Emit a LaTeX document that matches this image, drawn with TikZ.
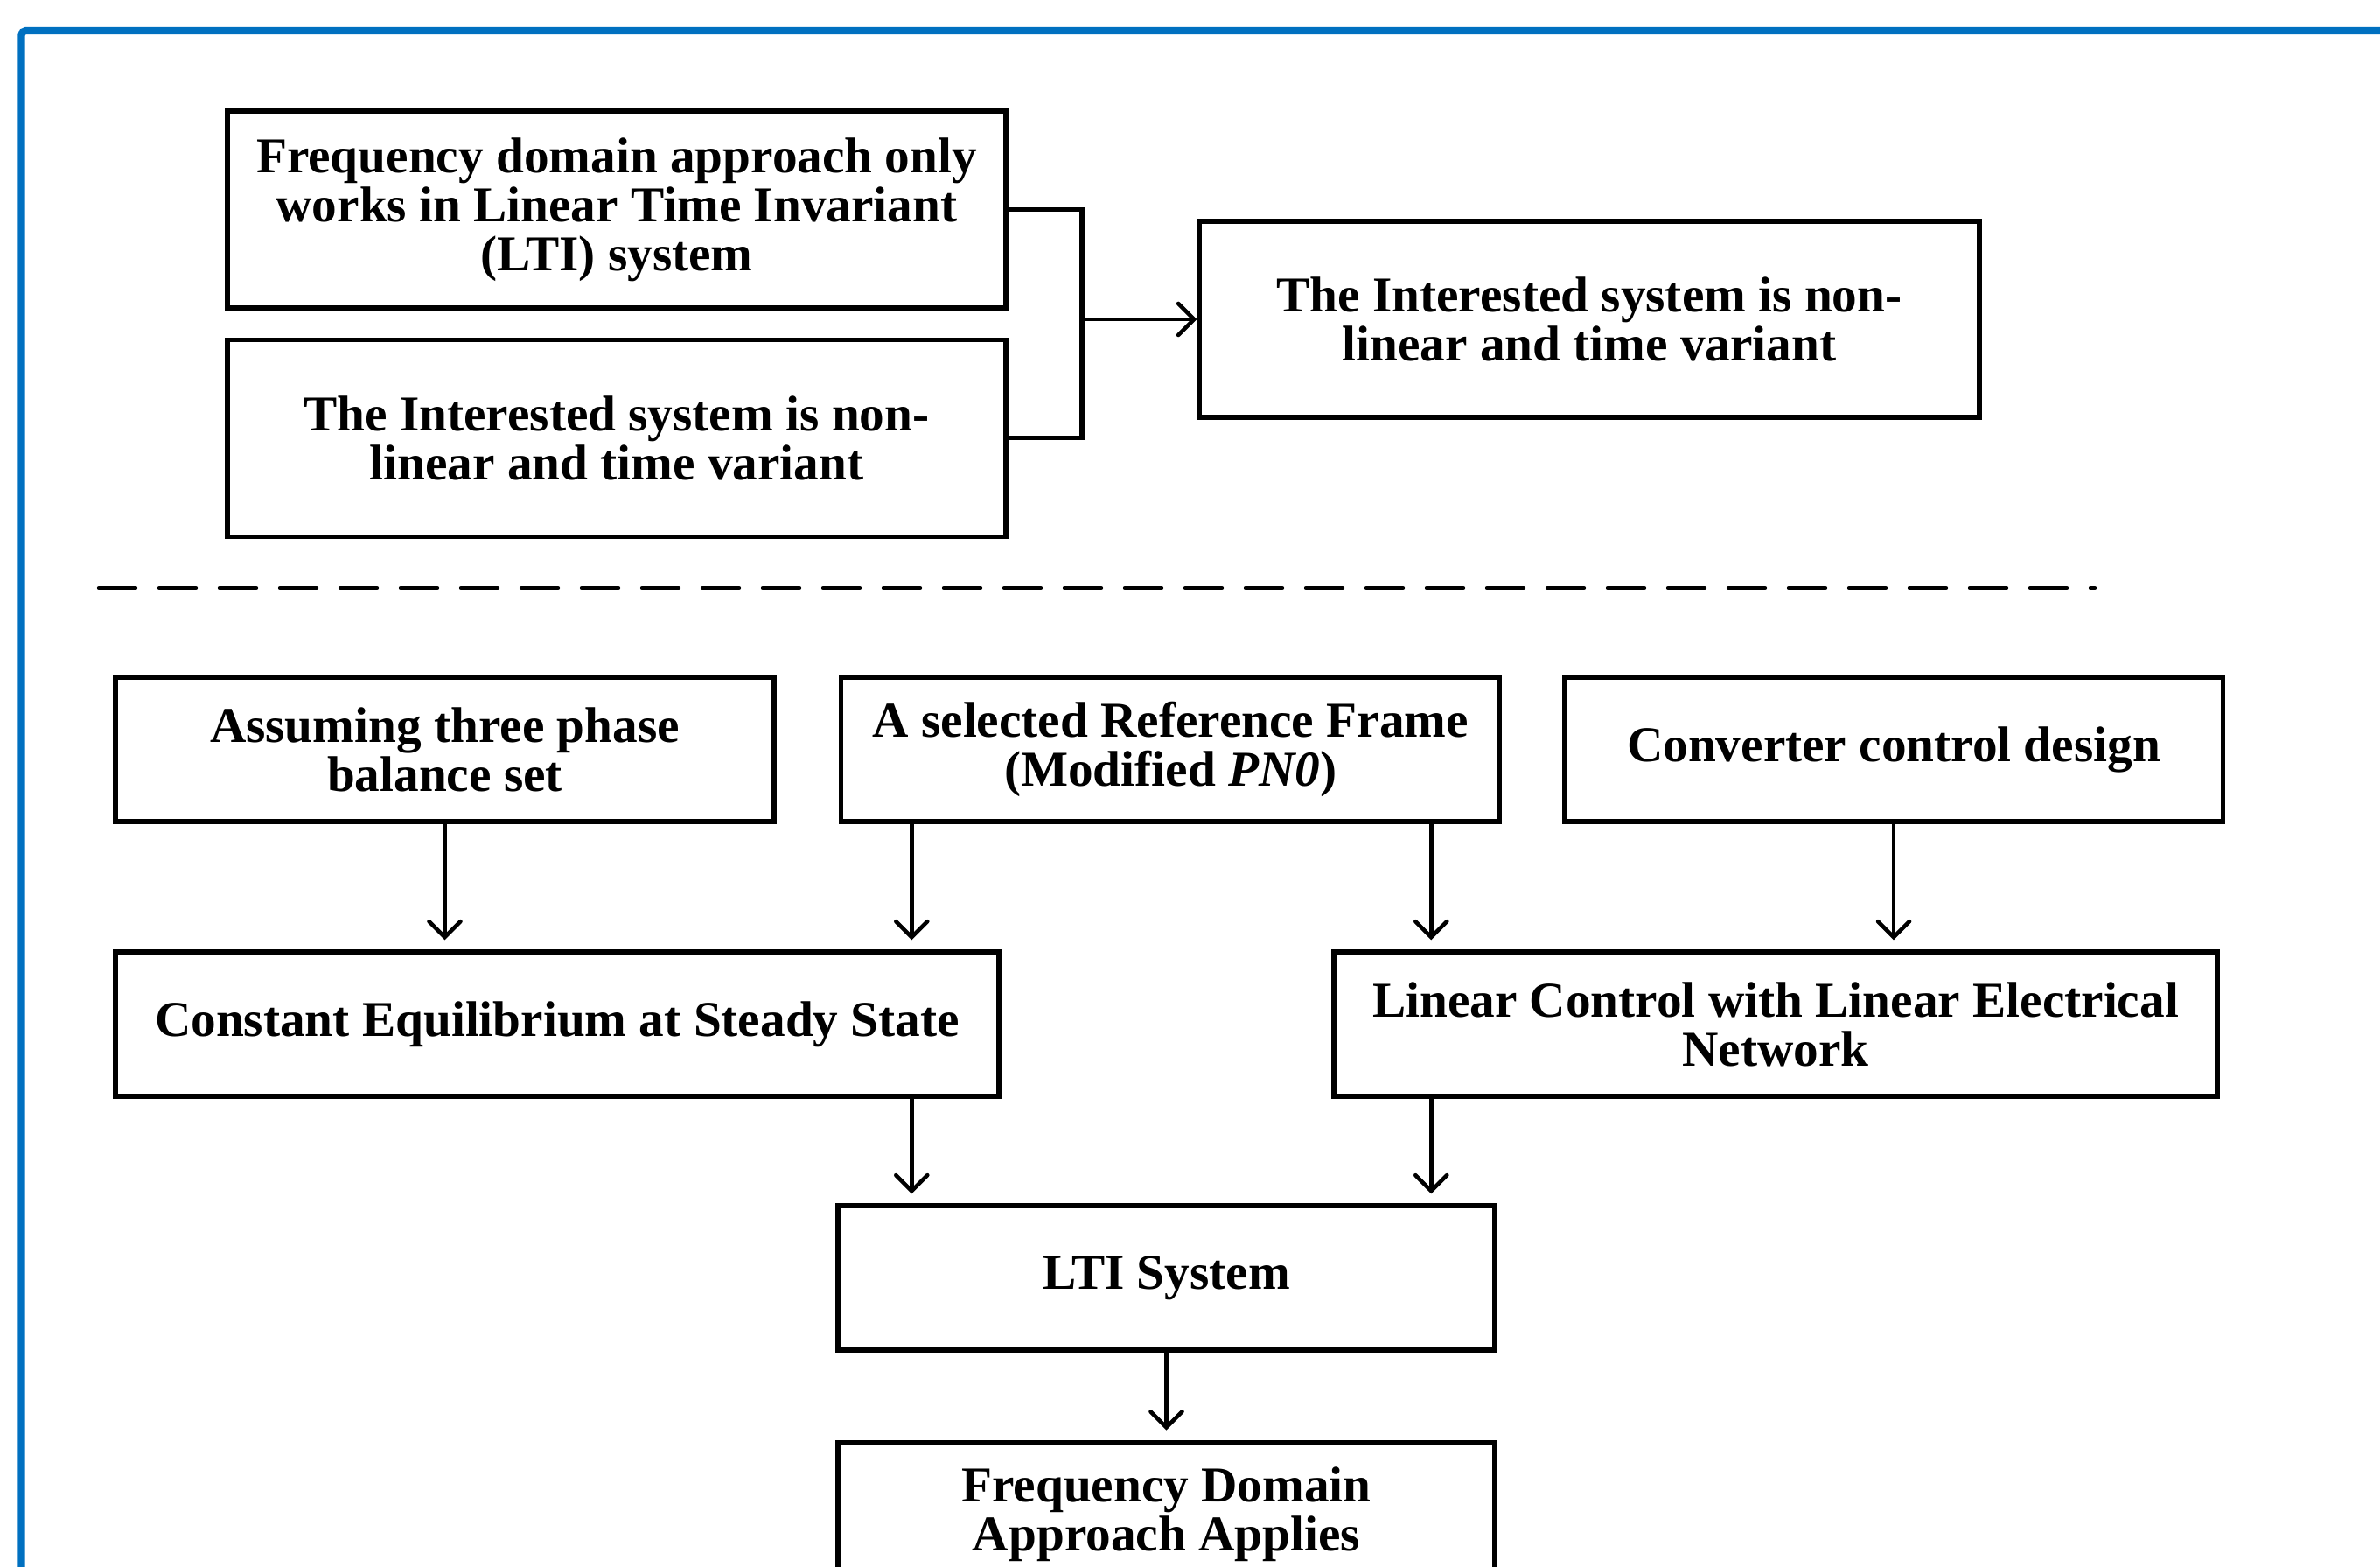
\documentclass[tikz,border=0pt]{standalone}
\usepackage{fontspec}
\setmainfont{Liberation Serif}
\usepackage{xcolor}
\usepackage{tikz}
\usetikzlibrary{arrows.meta,positioning}
\definecolor{frameblue}{RGB}{0,112,192}

\begin{document}
\begin{tikzpicture}[
    box/.style={draw, line width=1.5pt, minimum width=7.53cm, minimum height=1.65cm, align=center, inner sep=0pt,
      font=\fontsize{16.3}{15.9}\selectfont\bfseries},
    widebox/.style={box, minimum width=10.1cm},
    topbox/.style={box, minimum width=8.9cm, minimum height=2.25cm},
    arr/.style={line width=1.3pt, -{Straight Barb[length=1.8mm,width=3.6mm,line cap=round]}},
    down/.style={arr, shorten >=0.11cm}
  ]
    \clip (0,0) rectangle (27.21,-17.91);
    \draw[frameblue, line width=2.3pt, rounded corners=0.5mm] (28,-0.35) -- (0.245,-0.35) -- (0.245,-19);

    % upper part
    \node[topbox] (fdonly) at (7.05,-2.395) {Frequency domain approach only\\works in Linear Time Invariant\\(LTI) system};
    \node[topbox, below=0.31cm of fdonly] (intl) {The Interested system is non-\\linear and time variant};
    \node[topbox, minimum width=8.92cm, minimum height=2.24cm] (intr) at (18.17,-3.65) {The Interested system is non-\\linear and time variant};
    \coordinate (brk) at (12.37,-3.65);
    \draw[line width=1.5pt] (fdonly.east) -| (brk) |- (intl.east);
    \draw[arr] (brk) -- (intr.west);

    \draw[line width=1.2pt, line cap=round, dash pattern=on 0.42cm off 0.27cm] (1.13,-6.72) -- (23.95,-6.72);

    % lower part
    \node[box] (asm) at (5.085,-8.565) {Assuming three phase\\balance set};
    \node[box, right=0.715cm of asm] (sel) {A selected Reference Frame\\(Modified \textit{PN0})};
    \node[box, right=0.685cm of sel] (conv) {Converter control design};
    \node[widebox] (cee) at (6.37,-11.705) {Constant Equilibrium at Steady State};
    \node[widebox] (lce) at (20.30,-11.705) {Linear Control with Linear Electrical\\Network};
    \node[box, minimum width=7.51cm] (lti) at (13.335,-14.605) {LTI System};
    \node[box, minimum width=7.51cm, below=1cm of lti] (fda) {Frequency Domain\\Approach Applies};

    \coordinate (sl) at ([xshift=-2.96cm]sel.south);
    \coordinate (sr) at ([xshift=2.98cm]sel.south);
    \draw[down] (asm.south) -- (asm.south |- cee.north);
    \draw[down] (sl) -- (sl |- cee.north);
    \draw[down] (sr) -- (sr |- lce.north);
    \draw[down] (conv.south) -- (conv.south |- lce.north);
    \draw[down] (sl |- cee.south) -- (sl |- lti.north);
    \draw[down] (sr |- lce.south) -- (sr |- lti.north);
    \draw[down] (lti) -- (fda);
  \end{tikzpicture}
\end{document}
